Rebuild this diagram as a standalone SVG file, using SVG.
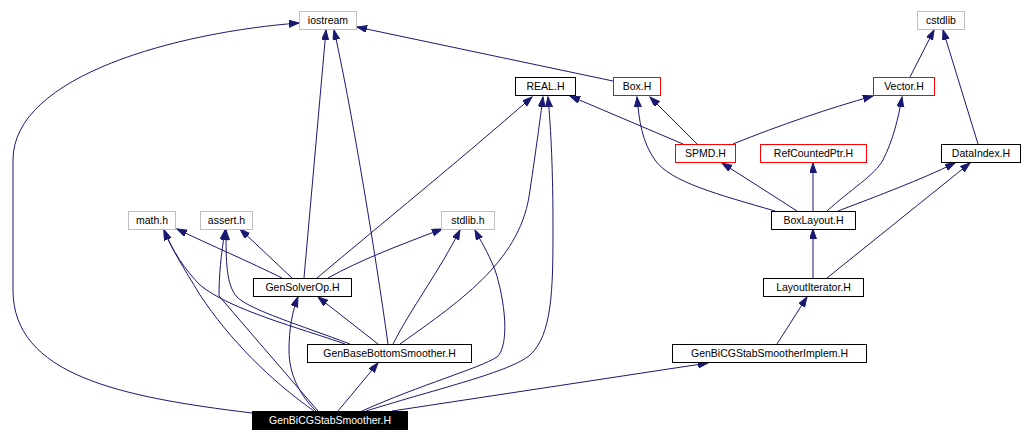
<svg xmlns="http://www.w3.org/2000/svg" width="1024" height="442" viewBox="0 0 1024 442">
<style>
.n rect{fill:#fff;stroke-width:1}
.g rect{stroke:#bfbfbf}
.r rect{stroke:#ff0000}
.b rect{stroke:#000}
.n text{font-family:"Liberation Sans",Arial,sans-serif;font-size:10.5px;fill:#000;text-anchor:middle}
#n_main rect{fill:#000;stroke:#000}
#n_main text{fill:#fff}
#edges path{fill:none;stroke:#191970;stroke-width:1;marker-end:url(#arr)}
</style>
<defs>
<marker id="arr" markerUnits="userSpaceOnUse" markerWidth="11" markerHeight="8" refX="10" refY="3.5" orient="auto">
<path d="M0,0 L10,3.5 L0,7 Z" fill="#191970" stroke="#191970" stroke-width="1"/>
</marker>
</defs>
<rect width="1024" height="442" fill="#fff"/>
<g id="edges">
<path d="M252,413 C120,397 13,375 13,290 L13,160 C13,75 180,32 299,23"/>
<path d="M304,278 L326,30"/>
<path d="M388,344 C375,250 350,100 334,30"/>
<path d="M613,81 L357,27"/>
<path d="M317,278 C380,225 460,160 532,97"/>
<path d="M400,344 C465,298 522,258 530,190 C536,150 540,120 543,97"/>
<path d="M366,411 C440,388 510,372 530,355 C552,335 553,290 553,230 C553,170 551,130 548,97"/>
<path d="M683,144 L570,96"/>
<path d="M697,144 L650,97"/>
<path d="M775,211 C720,195 670,182 655,160 C642,142 639,120 637,97"/>
<path d="M733,144 C780,125 830,108 873,96"/>
<path d="M910,77 L934,30"/>
<path d="M978,144 L943,30"/>
<path d="M797,211 L722,163"/>
<path d="M813,211 L813,163"/>
<path d="M827,211 C850,190 875,175 883,160 C893,140 898,120 902,97"/>
<path d="M838,211 C880,195 920,180 955,163"/>
<path d="M813,278 L813,229"/>
<path d="M827,278 L970,163"/>
<path d="M777,344 L807,297"/>
<path d="M392,411 L708,363"/>
<path d="M282,278 C250,262 210,245 177,229"/>
<path d="M292,278 L240,229"/>
<path d="M328,278 C360,260 400,245 442,229"/>
<path d="M345,344 C300,328 230,310 200,285 C185,270 172,250 164,230"/>
<path d="M350,344 C300,325 250,310 237,297 C226,285 226,260 226,230"/>
<path d="M393,344 C410,310 440,270 460,230"/>
<path d="M378,344 L318,297"/>
<path d="M316,411 C300,395 289,375 289,350 C289,330 292,312 298,297"/>
<path d="M338,411 L378,363"/>
<path d="M314,411 C270,380 230,340 200,295 C185,270 172,250 164,230"/>
<path d="M318,411 L219,296 C219,275 221,255 225,230"/>
<path d="M362,411 C420,385 480,368 497,357 C510,345 505,300 495,270 C487,250 480,240 475,230"/>
</g>
<g id="n_iostream" class="n g"><rect x="299.5" y="11.5" width="57" height="18"/><text x="328" y="24">iostream</text></g>
<g id="n_real" class="n b"><rect x="515.5" y="77.5" width="60" height="18"/><text x="545.5" y="90">REAL.H</text></g>
<g id="n_box" class="n r"><rect x="613.5" y="77.5" width="47" height="18"/><text x="637" y="90">Box.H</text></g>
<g id="n_cstdlib" class="n g"><rect x="917.5" y="11.5" width="47" height="18"/><text x="941" y="24">cstdlib</text></g>
<g id="n_vector" class="n r"><rect x="873.5" y="77.5" width="61" height="18"/><text x="904" y="90">Vector.H</text></g>
<g id="n_spmd" class="n r"><rect x="675.5" y="144.5" width="60" height="18"/><text x="705.5" y="157">SPMD.H</text></g>
<g id="n_refcnt" class="n r"><rect x="760.5" y="144.5" width="106" height="18"/><text x="813.5" y="157">RefCountedPtr.H</text></g>
<g id="n_dataindex" class="n b"><rect x="941.5" y="144.5" width="79" height="18"/><text x="981" y="157">DataIndex.H</text></g>
<g id="n_math" class="n g"><rect x="128.5" y="211.5" width="47" height="18"/><text x="152" y="224">math.h</text></g>
<g id="n_assert" class="n g"><rect x="200.5" y="211.5" width="52" height="18"/><text x="226.5" y="224">assert.h</text></g>
<g id="n_stdlib" class="n g"><rect x="441.5" y="211.5" width="53" height="18"/><text x="468" y="224">stdlib.h</text></g>
<g id="n_boxlayout" class="n b"><rect x="771.5" y="211.5" width="84" height="18"/><text x="813.5" y="224">BoxLayout.H</text></g>
<g id="n_gensolverop" class="n b"><rect x="253.5" y="278.5" width="98" height="18"/><text x="302.5" y="291">GenSolverOp.H</text></g>
<g id="n_layoutiter" class="n b"><rect x="763.5" y="278.5" width="100" height="18"/><text x="813.5" y="291">LayoutIterator.H</text></g>
<g id="n_genbase" class="n b"><rect x="307.5" y="344.5" width="164" height="18"/><text x="389.5" y="357">GenBaseBottomSmoother.H</text></g>
<g id="n_implem" class="n b"><rect x="672.5" y="344.5" width="194" height="18"/><text x="769.5" y="357">GenBiCGStabSmootherImplem.H</text></g>
<g id="n_main" class="n"><rect x="252.5" y="411.5" width="155" height="18"/><text x="330" y="424">GenBiCGStabSmoother.H</text></g>
</svg>
